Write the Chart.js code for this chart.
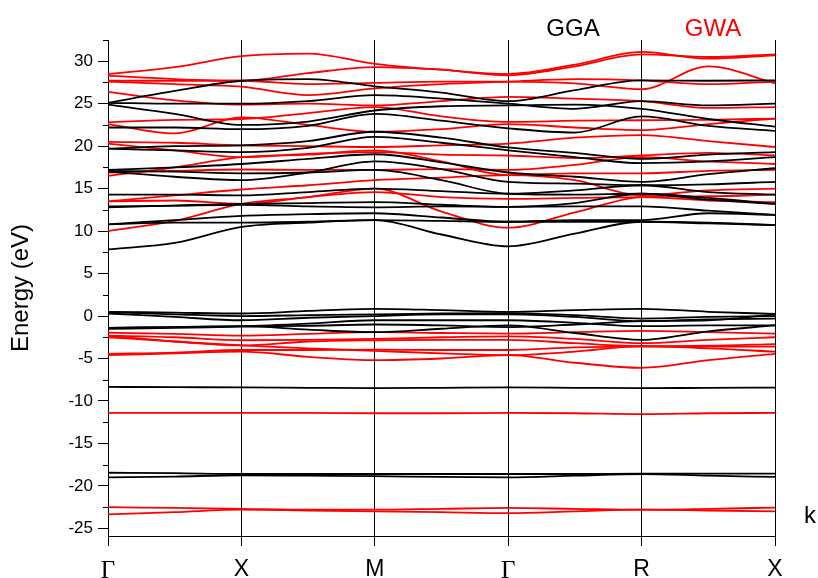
<!DOCTYPE html>
<html>
<head>
<meta charset="utf-8">
<script src="https://cdn.jsdelivr.net/npm/chart.js@4.4.0/dist/chart.umd.min.js"></script>
<style>
  html, body { margin: 0; padding: 0; background: #fff; }
  #wrap { width: 818px; height: 578px; }
</style>
</head>
<body>
<div id="wrap"><canvas id="myChart"></canvas></div>
<script>
// k path: high symmetry points plus the midpoint of every segment
kPos = [0, 0.5, 1, 1.5, 2, 2.5, 3, 3.5, 4, 4.5, 5];
kTicks = [0, 1, 2, 3, 4, 5];
kLabels = ["Γ", "X", "M", "Γ", "R", "X"];

energyTicks = [-25, -20, -15, -10, -5, 0, 5, 10, 15, 20, 25, 30];
energyMinor = [-22.5, -17.5, -12.5, -7.5, -2.5, 2.5, 7.5, 12.5, 17.5, 22.5, 27.5, 32.5];

// GGA bands (eV), read at Γ, ., X, ., M, ., Γ, ., R, ., X
ggaConduction = [
  [25.1, 26.5, 27.7, 27.9, 27.05, 26.3, 25.3, 26.6, 27.75, 27.7, 27.75],
  [25.1, 25.0, 25.0, 25.3, 26.0, 25.6, 25.0, 24.4, 25.3, 24.8, 25.0],
  [24.9, 23.8, 22.5, 22.9, 24.2, 24.7, 24.8, 24.9, 24.4, 23.2, 22.3],
  [22.2, 22.2, 22.0, 22.4, 23.8, 23.0, 22.1, 21.6, 23.5, 22.4, 21.8],
  [19.7, 20.0, 20.1, 20.6, 21.7, 21.0, 19.85, 19.2, 18.5, 19.0, 19.3],
  [19.7, 19.5, 19.3, 19.8, 21.1, 20.4, 19.5, 18.7, 18.0, 18.2, 18.7],
  [17.2, 17.5, 17.9, 18.5, 19.05, 18.1, 16.9, 16.4, 15.8, 16.7, 17.4],
  [17.0, 16.4, 16.0, 16.9, 18.2, 17.3, 15.8, 15.6, 15.4, 15.5, 15.8],
  [17.1, 17.0, 16.8, 16.9, 17.2, 16.0, 14.4, 14.3, 14.4, 13.9, 13.2],
  [14.3, 14.3, 14.2, 14.6, 15.0, 14.7, 14.4, 14.8, 15.4, 14.6, 14.3],
  [12.8, 13.0, 13.2, 13.3, 13.4, 13.1, 12.85, 13.3, 14.4, 13.7, 13.2],
  [12.9, 13.0, 13.1, 12.9, 12.8, 12.9, 12.85, 12.9, 12.9, 12.4, 11.9],
  [10.8, 11.3, 11.8, 12.0, 12.1, 11.6, 11.1, 11.3, 11.3, 12.1, 11.9],
  [10.8, 11.0, 11.0, 11.1, 11.3, 11.2, 11.1, 11.1, 11.1, 10.9, 10.7],
  [7.85, 8.6, 10.5, 11.0, 11.3, 9.6, 8.2, 9.7, 11.1, 11.0, 10.7]
];
ggaValence = [
  [0.5, 0.4, 0.3, 0.6, 0.85, 0.7, 0.5, 0.7, 0.85, 0.5, 0.25],
  [0.45, 0.2, 0.0, 0.1, 0.2, 0.3, 0.35, 0.1, -0.3, -0.1, 0.0],
  [0.3, -0.1, -0.5, -0.2, 0.0, 0.2, 0.2, -0.1, -0.6, -0.4, -0.3],
  [-1.4, -1.3, -1.2, -0.9, -0.5, -0.5, -0.5, -0.8, -1.2, -1.1, -1.1],
  [-1.4, -1.3, -1.2, -1.6, -1.9, -1.5, -1.1, -2.0, -2.8, -1.8, -1.1],
  [-1.5, -1.4, -1.25, -1.15, -1.0, -1.1, -1.3, -1.0, -0.6, -0.5, 0.2]
];
ggaSemicore = [
  [-8.35, -8.38, -8.4, -8.45, -8.5, -8.45, -8.4, -8.45, -8.5, -8.45, -8.43],
  [-18.45, -18.5, -18.6, -18.6, -18.6, -18.6, -18.6, -18.6, -18.55, -18.55, -18.55],
  [-19.0, -18.9, -18.75, -18.8, -18.85, -18.95, -19.0, -18.8, -18.6, -18.8, -18.95]
];

// GWA bands (eV)
gwaConduction = [
  [28.5, 29.3, 30.6, 30.9, 29.7, 29.0, 28.5, 29.6, 31.1, 30.3, 30.7],
  [28.3, 27.9, 27.7, 28.6, 29.3, 29.0, 28.35, 29.4, 30.8, 30.5, 30.8],
  [27.7, 27.7, 27.7, 27.3, 27.45, 27.6, 27.6, 27.4, 26.7, 29.4, 27.4],
  [27.6, 27.3, 27.0, 26.0, 26.8, 27.3, 27.6, 27.9, 27.75, 27.3, 27.6],
  [26.4, 25.4, 24.9, 25.0, 24.8, 25.3, 25.8, 25.6, 25.3, 24.5, 24.6],
  [22.8, 23.1, 23.2, 23.9, 24.6, 23.5, 22.85, 23.0, 23.05, 23.1, 23.25],
  [22.6, 21.5, 23.4, 22.5, 21.7, 22.0, 22.6, 22.2, 21.9, 22.6, 23.25],
  [20.5, 20.4, 20.1, 20.0, 19.9, 20.1, 20.3, 21.0, 21.3, 20.6, 19.9],
  [20.3, 19.5, 18.7, 19.1, 19.3, 19.0, 18.9, 18.6, 18.9, 19.2, 18.9],
  [16.9, 17.1, 17.25, 17.2, 17.2, 17.3, 17.2, 17.8, 18.7, 18.2, 17.9],
  [16.5, 17.5, 18.7, 19.0, 19.5, 18.2, 16.6, 16.8, 16.8, 17.1, 17.2],
  [13.5, 14.2, 14.9, 15.4, 16.0, 16.3, 16.6, 16.0, 14.2, 14.8, 15.0],
  [13.5, 13.6, 13.2, 14.0, 14.6, 14.0, 13.8, 13.9, 14.0, 13.6, 13.4],
  [10.0, 11.2, 13.2, 14.0, 15.0, 12.3, 10.4, 12.2, 14.0, 14.1, 14.3]
];
gwaValence = [
  [-1.96, -2.1, -2.3, -2.1, -1.9, -2.0, -2.07, -1.9, -1.75, -1.9, -2.07],
  [-2.3, -2.5, -2.85, -2.8, -2.7, -2.5, -2.4, -2.7, -3.2, -2.8, -2.5],
  [-2.5, -3.0, -3.45, -3.0, -2.85, -2.8, -2.8, -3.2, -3.55, -3.5, -3.3],
  [-4.45, -4.3, -4.0, -4.0, -3.95, -4.0, -4.0, -3.7, -3.6, -3.6, -3.6],
  [-4.6, -4.4, -4.2, -4.8, -5.2, -5.0, -4.6, -5.5, -6.1, -5.2, -4.45],
  [-2.3, -3.0, -3.45, -3.8, -4.1, -4.4, -4.6, -4.2, -3.55, -3.8, -4.2]
];
gwaSemicore = [
  [-11.4, -11.4, -11.4, -11.4, -11.45, -11.45, -11.4, -11.45, -11.55, -11.45, -11.4],
  [-22.5, -22.6, -22.7, -22.8, -22.8, -22.7, -22.6, -22.7, -22.8, -22.7, -22.55],
  [-23.35, -23.1, -22.8, -22.9, -23.0, -23.1, -23.2, -23.0, -22.8, -22.9, -23.0]
];

function bandSet(bands, color) {
  return bands.map(b => ({
    data: b.map((e, i) => ({ x: kPos[i], y: e })),
    borderColor: color,
    borderWidth: 1.8,
    pointRadius: 0,
    fill: false,
    cubicInterpolationMode: "monotone"
  }));
}

const datasets = [].concat(
  bandSet(ggaConduction, "#000000"),
  bandSet(ggaValence, "#000000"),
  bandSet(ggaSemicore, "#000000"),
  bandSet(gwaConduction, "#ff0000"),
  bandSet(gwaValence, "#ff0000"),
  bandSet(gwaSemicore, "#ff0000")
);

// minor ticks on the energy axis and the free-standing labels
const extras = {
  id: "extras",
  afterDraw(chart) {
    const ctx = chart.ctx;
    const y = chart.scales.y;
    const left = chart.chartArea.left;
    ctx.save();
    ctx.strokeStyle = "#000";
    ctx.lineWidth = 1;
    energyMinor.forEach(v => {
      const py = Math.round(y.getPixelForValue(v)) + 0.5;
      ctx.beginPath();
      ctx.moveTo(left - 5, py);
      ctx.lineTo(left, py);
      ctx.stroke();
    });
    ctx.font = "24px 'Liberation Sans', Arial, sans-serif";
    ctx.textAlign = "center";
    ctx.textBaseline = "alphabetic";
    ctx.fillStyle = "#000";
    ctx.fillText("GGA", 573, 36);
    ctx.fillStyle = "#ff0000";
    ctx.fillText("GWA", 713, 36);
    ctx.fillStyle = "#000";
    ctx.fillText("k", 810, 523);
    ctx.restore();
  }
};

new Chart(document.getElementById("myChart"), {
  type: "line",
  data: { datasets: datasets },
  options: {
    responsive: true,
    maintainAspectRatio: false,
    animation: false,
    layout: { padding: { top: 40, right: 43, bottom: 0, left: 0 } },
    plugins: { legend: { display: false }, tooltip: { enabled: false } },
    scales: {
      x: {
        type: "linear",
        min: 0,
        max: 5,
        afterBuildTicks: s => { s.ticks = kTicks.map(v => ({ value: v })); },
        afterFit: s => { s.height = 42; },
        grid: { color: "#000", lineWidth: 1, tickLength: 10, drawOnChartArea: true },
        border: { display: true, color: "#000", width: 1 },
        ticks: {
          autoSkip: false,
          maxRotation: 0,
          padding: 10,
          color: "#000",
          callback: v => kLabels[kTicks.indexOf(v)],
          font: c => (c.tick && (c.tick.value === 0 || c.tick.value === 3))
            ? { family: "'Liberation Serif', 'Times New Roman', serif", size: 25 }
            : { family: "'Liberation Sans', Arial, sans-serif", size: 23 }
        }
      },
      y: {
        type: "linear",
        min: -25.9,
        max: 32.5,
        afterBuildTicks: s => { s.ticks = energyTicks.map(v => ({ value: v })); },
        afterFit: s => { s.width = 108; },
        grid: { drawOnChartArea: false, color: "#000", tickLength: 10 },
        border: { display: true, color: "#000", width: 1 },
        ticks: {
          padding: 5,
          color: "#000",
          font: { family: "'Liberation Sans', Arial, sans-serif", size: 17 }
        },
        title: {
          display: true,
          text: "Energy (eV)",
          color: "#000",
          padding: { top: 7, bottom: 0 },
          font: { family: "'Liberation Sans', Arial, sans-serif", size: 24 }
        }
      }
    }
  },
  plugins: [extras]
});
</script>
</body>
</html>
